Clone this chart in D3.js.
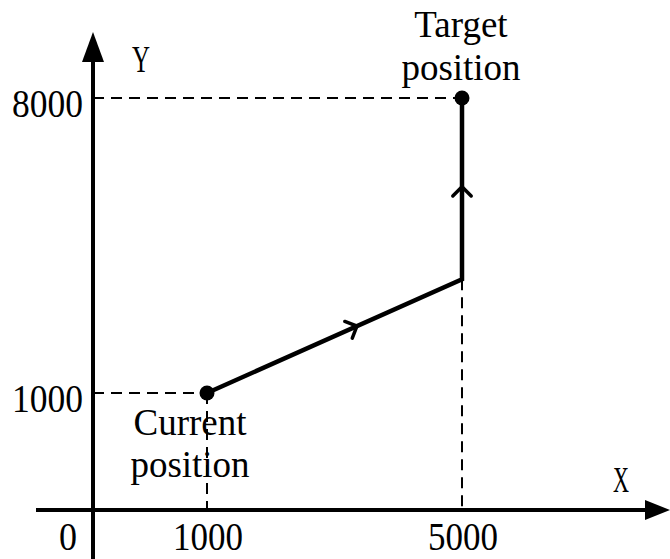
<!DOCTYPE html>
<html>
<head>
<meta charset="utf-8">
<script src="https://cdn.jsdelivr.net/npm/d3@7"></script>
<style>
  html, body { margin: 0; padding: 0; background: #fff; }
  svg { display: block; }
  text { font-family: "Liberation Serif", "Times New Roman", serif; fill: #000; }
</style>
</head>
<body>
<svg id="chart" width="670" height="559"></svg>
<script>
// ---- data ----
const xTickValues = [1000, 5000];
const yTickValues = [1000, 8000];
const xTickLabels = ["1000", "5000"];
const yTickLabels = ["1000", "8000"];
const originLabel = "0";
const pathX = [1000, 5000, 5000];
const pathY = [1000, 3700, 8000];
const currentPos = {x: 1000, y: 1000, label: ["Current", "position"]};
const targetPos = {x: 5000, y: 8000, label: ["Target", "position"]};
const axisNames = {x: "X", y: "Y"};

// ---- layout ----
const W = 670, H = 559;
const svg = d3.select("#chart");

// schematic (piecewise) scales: origin, then the two marked values
const x = d3.scaleLinear().domain([0, 1000, 5000]).range([93, 207, 462]);
const y = d3.scaleLinear().domain([0, 1000, 8000]).range([510, 393, 98]);

const x0 = x(0), y0 = y(0);

// dashed guide lines
const guides = [];
pathX.forEach((vx, i) => {
  const px = x(vx), py = y(pathY[i]);
  if (i === 0 || i === 2) guides.push([[x0, py], [px, py]]);
  if (i === 0 || i === 1) guides.push([[px, py], [px, y0]]);
});
svg.append("g").selectAll("line").data(guides).join("line")
  .attr("x1", d => d[0][0]).attr("y1", d => d[0][1])
  .attr("x2", d => d[1][0]).attr("y2", d => d[1][1])
  .attr("stroke", "#000").attr("stroke-width", 2)
  .attr("stroke-dasharray", "11,7");

// axes
svg.append("line").attr("x1", 36).attr("y1", y0).attr("x2", 648).attr("y2", y0)
  .attr("stroke", "#000").attr("stroke-width", 4);
svg.append("path").attr("d", `M670,${y0} L645,${y0 - 10} L645,${y0 + 10} Z`).attr("fill", "#000");
svg.append("line").attr("x1", x0).attr("y1", H).attr("x2", x0).attr("y2", 58)
  .attr("stroke", "#000").attr("stroke-width", 4);
svg.append("path").attr("d", `M${x0},32 L${x0 - 11},62 L${x0 + 11},62 Z`).attr("fill", "#000");

// motion path
const line = d3.line().x(d => x(d[0])).y(d => y(d[1]));
const pts = pathX.map((v, i) => [v, pathY[i]]);
svg.append("path").attr("d", line(pts)).attr("fill", "none")
  .attr("stroke", "#000").attr("stroke-width", 4.5).attr("stroke-linejoin", "miter");

// direction chevrons
function chevron(a, b, t) {
  const ax = x(a[0]), ay = y(a[1]), bx = x(b[0]), by = y(b[1]);
  const px = ax + (bx - ax) * t, py = ay + (by - ay) * t;
  const ang = Math.atan2(by - ay, bx - ax);
  const L = 13, s = Math.PI * 0.75;
  const p1 = [px + L * Math.cos(ang + s), py + L * Math.sin(ang + s)];
  const p2 = [px + L * Math.cos(ang - s), py + L * Math.sin(ang - s)];
  svg.append("path").attr("d", `M${p1[0]},${p1[1]} L${px},${py} L${p2[0]},${p2[1]}`)
    .attr("fill", "none").attr("stroke", "#000").attr("stroke-width", 3.5)
    .attr("stroke-linecap", "round");
}
chevron(pts[0], pts[1], 0.588);
chevron(pts[1], pts[2], 0.51);

// points
svg.append("g").selectAll("circle").data([currentPos, targetPos]).join("circle")
  .attr("cx", d => x(d.x)).attr("cy", d => y(d.y)).attr("r", 7.5).attr("fill", "#000");

// tick labels
svg.append("g").selectAll("text").data(xTickValues).join("text")
  .attr("x", d => x(d) + 1).attr("y", 550)
  .attr("text-anchor", "middle").attr("font-size", 40)
  .attr("textLength", 70).attr("lengthAdjust", "spacingAndGlyphs")
  .text((d, i) => xTickLabels[i]);
svg.append("g").selectAll("text").data(yTickValues).join("text")
  .attr("x", 12).attr("y", d => y(d) + 19)
  .attr("font-size", 40)
  .attr("textLength", 71).attr("lengthAdjust", "spacingAndGlyphs")
  .text((d, i) => yTickLabels[i]);
svg.append("text").attr("x", 59).attr("y", 550).attr("font-size", 40)
  .attr("textLength", 18).attr("lengthAdjust", "spacingAndGlyphs").text(originLabel);

// axis names
svg.append("text").attr("x", 613).attr("y", 492).attr("font-size", 36)
  .attr("textLength", 16).attr("lengthAdjust", "spacingAndGlyphs").text(axisNames.x);
svg.append("text").attr("x", 132).attr("y", 72).attr("font-size", 38)
  .attr("textLength", 18).attr("lengthAdjust", "spacingAndGlyphs").text(axisNames.y);

// point labels
const tl = svg.append("text").attr("font-size", 37).attr("text-anchor", "middle");
tl.selectAll("tspan").data(targetPos.label).join("tspan")
  .attr("x", x(targetPos.x) - 1).attr("y", (d, i) => 37 + i * 43).text(d => d);
const cl = svg.append("text").attr("font-size", 37).attr("text-anchor", "middle");
cl.selectAll("tspan").data(currentPos.label).join("tspan")
  .attr("x", x(currentPos.x) - 17).attr("y", (d, i) => 435 + i * 42).text(d => d);
</script>
</body>
</html>
